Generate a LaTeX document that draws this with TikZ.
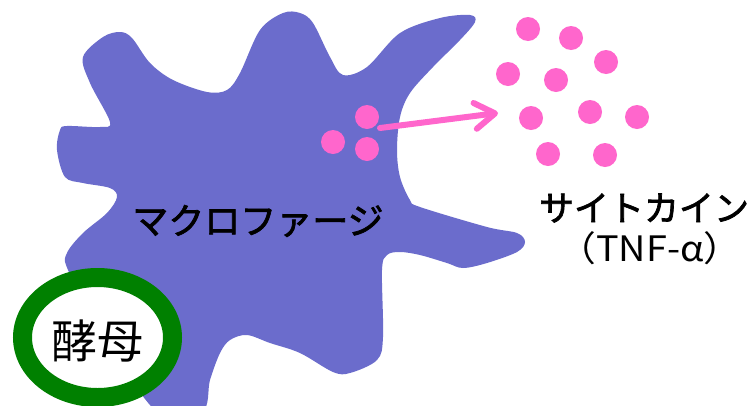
\documentclass[tikz,border=0pt]{standalone}
\usepackage{fontspec}
\newfontfamily\jpfont{Noto Sans CJK JP}
\newfontfamily\jpmed[FakeBold=2]{Noto Sans CJK JP}
\newfontfamily\jpwide[FakeStretch=1.08]{Noto Sans CJK JP}
\usetikzlibrary{arrows.meta}
\definecolor{cellblue}{RGB}{107,108,204}
\definecolor{yeastgreen}{RGB}{0,128,0}
\definecolor{cytopink}{RGB}{255,102,204}
\tikzset{
  label/.style={inner sep=0pt, font=\jpfont, text=black},
  granule/.style={fill=cytopink, draw=none},
  release/.style={draw=cytopink, line width=6pt, line cap=round,
    -{Straight Barb[length=20pt,width=26pt,round]}},
}
\begin{document}
\begin{tikzpicture}[x=1pt,y=-1pt]
  \fill[white] (0,0) rectangle (749,405);
  \useasboundingbox (0,0) rectangle (749,405);

  % macrophage body
  \fill[cellblue] plot[smooth cycle, tension=0.55] coordinates {
    (110,122) (90,83) (83,57) (103,37) (120,32) (132,38) (150,63) (173,80)
    (207,92) (227,90) (240,73) (260,30) (283,13) (300,13) (313,23) (330,57)
    (343,75) (367,67) (400,33) (440,18) (470,15) (475,22) (460,40) (433,67)
    (410,93) (400,117) (397,150) (400,177) (410,200) (420,207) (487,227)
    (517,233) (525,242) (517,252) (487,263) (463,268) (447,263) (420,255)
    (400,252) (387,255) (382,270) (383,337) (377,360) (350,373) (333,372)
    (300,353) (270,343) (247,335) (230,340) (220,353) (210,380) (202,412)
    (157,412) (100,330) (68,270) (67,253) (83,233) (107,213) (117,197)
    (110,188) (83,183) (65,177) (57,150) (60,130) (67,126) (100,127)
  };

  % yeast cell
  \draw[yeastgreen, fill=white, line width=19pt] (97.5,337.5) ellipse [x radius=75, y radius=60];
  \node[label, font=\jpfont\fontsize{46}{46}\selectfont] (yeast) at (97.5,341) {酵母};

  \node[label, font=\jpmed\fontsize{36}{36}\selectfont] (macro) at (258,221) {マクロファージ};

  % granules inside the cell
  \fill[granule] (367,117) circle (12);
  \fill[granule] (333,142) circle (12);
  \fill[granule] (367,149) circle (12);

  % released cytokine
  \foreach \x/\y in {528/29, 571/38, 606/62, 508/74, 556/80, 531/118,
                     590/112, 637/117, 548/154, 605/155}
    \fill[granule] (\x,\y) circle (12);

  \coordinate (src) at (380,128);
  \coordinate (dst) at (498,113);
  \draw[release] (src) -- (dst);

  \node[label, font=\jpmed\fontsize{35}{35}\selectfont] (cyto) at (644,208) {サイトカイン};
  \node[label, font=\jpwide\fontsize{35}{35}\selectfont] (tnf) at (650,248) {（TNF-α）};
\end{tikzpicture}
\end{document}
